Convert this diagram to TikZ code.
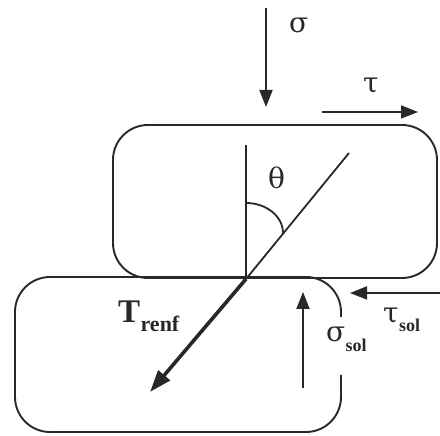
\documentclass[tikz,border=0pt]{standalone}
\usepackage{fontspec}
\setmainfont{Liberation Serif}
\newfontfamily\grk{DejaVu Serif}
\usetikzlibrary{arrows.meta}
\definecolor{ink}{RGB}{40,40,40}
\begin{document}
\begin{tikzpicture}[x=1pt,y=1pt,
  frame/.style={draw=ink,line width=1.9pt,rounded corners=35pt},
  thin/.style={draw=ink,line width=1.8pt},
  force/.style={draw=ink,line width=1.8pt,-{Triangle[length=17pt,width=13pt]}},
  tforce/.style={draw=ink,line width=3.6pt,-{Triangle[length=22pt,width=15pt]}},
  lab/.style={inner sep=0pt,anchor=base west,text=ink,font=\grk\fontsize{28}{28}\selectfont},
  sub/.style={inner sep=0pt,anchor=base west,text=ink,font=\bfseries\fontsize{18}{18}\selectfont}]
\useasboundingbox (0,0) rectangle (440,436);
% boxes
\draw[frame] (113,158) rectangle (437,311);
\draw[frame] (341,119) -- (341,159) -- (15,159) -- (15,4) -- (341,4) -- (341,61);
% reference lines
\coordinate (O) at (246,157);
\coordinate (V) at (246,291);
\coordinate (D) at (349,283);
\coordinate (R) at (150,44);
\draw[thin] (O) -- (V);
\draw[thin] (O) -- (D);
\draw[thin] (246,233) arc[start angle=90,end angle=0,x radius=37,y radius=30];
\draw[tforce] (O) -- (R);
% applied forces
\coordinate (s1) at (266,428); \coordinate (s2) at (266,329);
\coordinate (t1) at (322,324); \coordinate (t2) at (418,324);
\coordinate (ss1) at (303,48); \coordinate (ss2) at (303,144);
\coordinate (ts1) at (440,143); \coordinate (ts2) at (350,143);
\draw[force] (s1) -- (s2);
\draw[force] (t1) -- (t2);
\draw[force] (ss1) -- (ss2);
\draw[force] (ts1) -- (ts2);
% labels
\node[lab] (sig) at (289,403) {σ};
\node[lab] (tau) at (363,343) {τ};
\node[lab] (th) at (268,247) {θ};
\node[lab,font=\bfseries\fontsize{33}{33}\selectfont] (T) at (118,113) {T};
\node[sub,font=\bfseries\fontsize{22}{22}\selectfont] (Ts) at (T.base east) [yshift=-9pt] {renf};
\node[lab] (ssol) at (326,94) {σ};
\node[sub] (ssols) at (ssol.base east) [yshift=-10pt] {sol};
\node[lab] (tsol) at (383,113) {τ};
\node[sub] (tsols) at (tsol.base east) [yshift=-9pt] {sol};
\end{tikzpicture}
\end{document}
